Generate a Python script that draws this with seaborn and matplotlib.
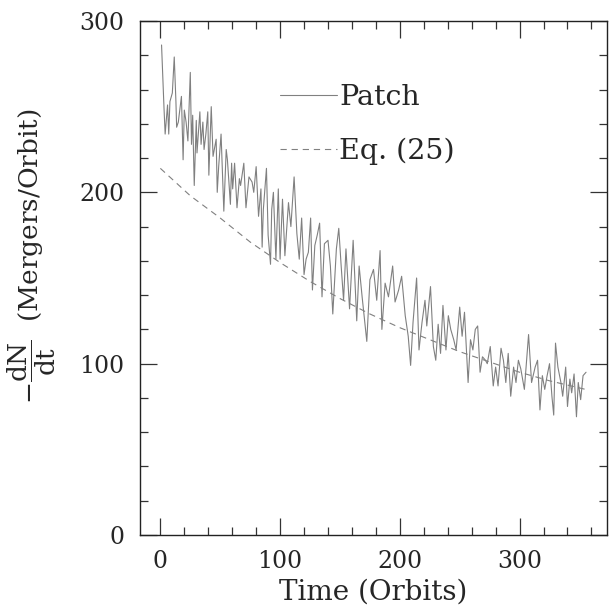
import numpy as np
import pandas as pd
import matplotlib
matplotlib.use('Agg')
import matplotlib.pyplot as plt
from matplotlib.ticker import MultipleLocator
import seaborn as sns


# values (time in orbits, merger rate)
patch_t = [1, 3, 4, 6, 7, 8, 10, 11.6, 13, 13.6, 15, 17.6, 19, 20, 21.5, 23, 25, 26, 27,
           28.3, 30, 30.6, 33, 34, 35.5, 36.5, 38, 39.6, 40.5, 42.5, 44, 46.6, 47.5,
           48.7, 50.7, 53, 55, 56, 58.5, 59.5, 60.4, 62, 64, 66, 67, 69.7, 71.5, 72.5,
           74, 76.6, 78, 80, 82, 84, 85, 86, 88.6, 90, 92, 93,
           94.4, 96.5, 98.5, 100, 102, 104, 107, 109, 111.7, 114, 116, 118, 120,
           121.7, 123.6, 125.5, 127, 129, 131, 133, 135, 137, 140, 142, 144, 147,
           149, 151, 153, 155, 158, 161, 164, 166, 168.5, 172.4, 175, 178, 180.7,
           183.5, 185, 187.7, 190.5, 194, 196, 199, 201.5, 204.5, 207, 209, 211,
           214, 216, 218.5, 221, 222.5,
           225.6, 228, 230, 232, 234, 236, 238.5, 240.5, 242.5, 245, 247, 250, 252,
           254, 257, 259, 261, 263, 265, 267, 269, 271.5, 273, 275.5, 278, 280, 282,
           284.5, 286.5, 288.5, 290.5, 292.6, 295, 297, 299, 301, 304, 307.5, 310,
           313, 315, 317, 319, 321, 323, 325, 327, 328.5, 330, 332, 334.5, 336,
           338.5, 340, 342, 343.5, 345.5, 347.5, 349, 351, 353, 355.5]
patch_n = [286, 250, 234, 251, 234, 253, 258, 279, 253, 238, 241, 256, 219, 248, 241, 230, 270, 228, 245,
           204, 242, 223, 247, 228, 241, 225, 234, 247, 210, 250, 221, 231, 200,
           215, 234, 189, 225, 219, 193, 217, 202, 217, 191, 208, 204, 217, 191, 198,
           209, 206, 200, 215, 186, 202, 168, 190, 214, 175, 158, 190,
           200, 161, 202, 161, 196, 163, 194, 180, 209, 176, 161, 185, 152,
           161, 165, 185, 143, 169, 175, 182, 139, 170, 172, 157, 129, 167,
           179, 157, 137, 167, 132, 172, 125, 157, 139, 113, 149, 155, 137,
           166, 120, 147, 139, 157, 136, 143, 151, 128, 116, 99, 124,
           150, 108, 124, 137, 122,
           145, 110, 102, 123, 106, 134, 108, 128, 120, 114, 108, 133, 116,
           130, 89, 114, 108, 120, 122, 95, 104, 102, 100, 110, 87, 98, 87,
           109, 102, 89, 106, 81, 98, 89, 102, 97, 85, 117, 89,
           98, 102, 73, 93, 85, 93, 100, 81, 70, 112, 98, 89, 81,
           98, 75, 91, 83, 94, 69, 89, 79, 93, 95]

eq_t = [0, 25, 50, 75, 100, 125, 150, 175, 200, 225, 250, 275, 300, 325, 355]
eq_n = [214, 198, 185, 171, 159, 148, 138, 129, 121, 114, 107, 101, 95, 90, 85]

sns.set_style('ticks')
plt.rcParams['font.family'] = ['DejaVu Serif']
plt.rcParams['mathtext.fontset'] = 'dejavuserif'
plt.rcParams['lines.scale_dashes'] = False

fig = plt.figure(figsize=(6.16, 6.08), dpi=100)
ax = fig.add_axes([140 / 616, 73 / 608, 467 / 616, 514 / 608])

patch = pd.DataFrame({'t': patch_t, 'n': patch_n})
eq = pd.DataFrame({'t': eq_t, 'n': eq_n})

sns.lineplot(data=patch, x='t', y='n', ax=ax, color='#808080', lw=0.8,
             estimator=None, sort=False, label='Patch')
sns.lineplot(data=eq, x='t', y='n', ax=ax, color='#808080', lw=0.8,
             estimator=None, label='Eq. (25)')
ax.lines[1].set_dashes([4.5, 3.5])

ax.set_xlim(-17, 373)
ax.set_ylim(0, 300)
ax.xaxis.set_major_locator(MultipleLocator(100))
ax.xaxis.set_minor_locator(MultipleLocator(20))
ax.yaxis.set_major_locator(MultipleLocator(100))
ax.yaxis.set_minor_locator(MultipleLocator(20))
ax.tick_params(which='both', direction='in', top=True, right=True,
               width=0.9, color='#333333', labelsize=17, pad=11)
ax.tick_params(which='major', length=12)
ax.tick_params(which='minor', length=6)
for s in ax.spines.values():
    s.set_linewidth(1.0)
    s.set_color('#222222')

ax.set_xlabel('Time (Orbits)', fontsize=20)
ax.set_ylabel(r'$-\dfrac{\mathrm{dN}}{\mathrm{dt}}$  (Mergers/Orbit)', fontsize=19)
ax.yaxis.set_label_coords(-0.175, 0.543)
ax.xaxis.set_label_coords(0.5, -0.084)

leg = ax.legend(loc='upper left', bbox_to_anchor=(0.30, 0.877), frameon=False,
                fontsize=20.5, handlelength=2.0, handletextpad=0.08,
                borderpad=0, borderaxespad=0, labelspacing=0.92)

fig.savefig('out.png', dpi=100)
